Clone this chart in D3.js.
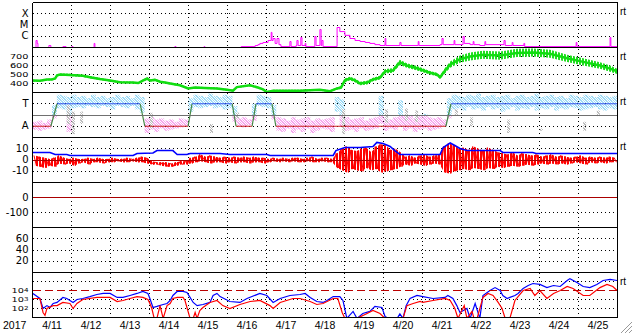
<!DOCTYPE html>
<html><head><meta charset="utf-8">
<script src="https://cdn.jsdelivr.net/npm/d3@7"></script>
<style>
html,body{margin:0;padding:0;background:#fff;}
svg{display:block;}
</style></head><body>
<svg id="chart" width="633" height="334"></svg>
<script>
// ---------------- DATA ----------------
// time unit: day of April 2017 (UT), e.g. 11.5 = 4/11 12:00
const dayLabels = ["4/11","4/12","4/13","4/14","4/15","4/16","4/17","4/18","4/19","4/20","4/21","4/22","4/23","4/24","4/25"];
const yearLabel = "2017";

// X-ray flux (W/m2), [day, flux]
const xrayFlux = [[11.00,8e-8],[11.09,4.2e-7],[11.12,2.3e-7],[11.14,8e-8],[11.42,1.5e-7],[11.47,8e-8],[11.78,1.2e-7],[11.86,8e-8],[12.01,1.2e-7],[12.04,8e-8],[12.58,2.3e-7],[12.60,8e-8],[14.65,1.2e-7],[14.68,8e-8],[15.40,1.2e-7],[15.42,8e-8],[16.35,1.2e-7],[16.71,1.5e-7],[16.78,1.8e-7],[16.83,2.3e-7],[16.91,2.8e-7],[17.04,4.2e-7],[17.12,2.2e-6],[17.14,4.2e-7],[17.17,6.3e-7],[17.22,2.3e-7],[17.27,6.3e-7],[17.32,1.8e-7],[17.37,1.2e-7],[17.60,3.4e-7],[17.63,1.2e-7],[17.76,1.5e-7],[17.78,4.2e-7],[17.81,1.5e-7],[17.88,7.7e-7],[17.91,1.5e-7],[17.99,2.3e-7],[18.01,1.2e-7],[18.24,9.5e-7],[18.27,1.5e-7],[18.37,4e-6],[18.40,1.5e-7],[18.42,4.2e-7],[18.45,1.2e-7],[18.81,6e-6],[18.88,2.6e-6],[19.01,1.2e-6],[19.14,6.3e-7],[19.27,4.2e-7],[19.40,3.4e-7],[19.53,2.8e-7],[19.65,2.3e-7],[19.78,1.8e-7],[19.91,1.5e-7],[20.04,6.3e-7],[20.06,1.5e-7],[20.42,2.8e-7],[20.45,1.5e-7],[20.89,3.4e-7],[20.91,1.5e-7],[21.45,1.8e-7],[21.50,6.3e-7],[21.53,1.8e-7],[21.81,4.2e-7],[21.83,1.8e-7],[22.04,9.5e-7],[22.07,2.3e-7],[22.22,1.8e-7],[22.30,3.4e-7],[22.32,1.8e-7],[22.47,1.5e-7],[22.60,3.4e-7],[22.62,1.8e-7],[23.09,4.2e-7],[23.12,1.5e-7],[23.30,2.8e-7],[23.32,1.5e-7],[23.60,2.3e-7],[23.62,1.2e-7],[24.94,2.8e-7],[24.96,1.2e-7],[25.81,7.7e-7],[25.83,1.2e-7],[26.00,1.2e-7]];

// Solar wind speed (km/s): [day, speed, scatter half-width]
const windSpeed = [[11.01,433,10],[11.19,430,10],[11.37,444,10],[11.50,445,10],[11.58,455,10],[11.63,490,12],[11.71,500,12],[11.96,495,12],[12.29,485,12],[12.47,470,12],[12.73,450,10],[12.99,433,10],[13.24,415,10],[13.58,410,10],[13.71,405,10],[13.83,433,12],[13.94,455,12],[14.01,433,12],[14.14,440,12],[14.27,420,10],[14.40,410,10],[14.53,400,10],[14.78,380,10],[14.99,345,10],[15.17,355,10],[15.42,350,10],[15.73,345,10],[15.99,330,10],[16.14,320,10],[16.24,360,10],[16.58,380,10],[16.78,355,10],[16.91,335,10],[17.01,305,10],[17.17,320,10],[17.86,320,10],[18.37,330,10],[18.63,315,10],[18.81,345,12],[18.91,355,15],[19.01,435,20],[19.14,455,20],[19.27,435,20],[19.40,400,20],[19.58,410,20],[19.73,445,20],[19.91,465,20],[20.04,535,25],[20.24,545,25],[20.42,635,30],[20.60,600,25],[20.86,570,25],[21.19,520,20],[21.37,500,20],[21.45,470,20],[21.58,545,30],[21.71,610,35],[21.96,670,40],[22.22,700,45],[22.55,720,45],[22.99,710,45],[23.42,740,45],[23.83,745,45],[24.27,730,45],[24.71,680,40],[25.12,640,40],[25.55,600,35],[25.81,565,35],[25.99,535,30]];

// IMF sector (T = +1, A = -1), [day, sector]
const imfSector = [[11.00,-1],[11.47,-1],[11.63,1],[13.76,1],[13.88,-1],[14.99,-1],[15.09,1],[16.12,1],[16.22,-1],[16.63,-1],[16.73,1],[17.14,1],[17.24,-1],[21.60,-1],[21.73,1],[26.00,1]];
// IMF direction scatter, 3-hour bins from 4/11 00UT: upper / lower extent (T=+1, A=-1)
const phiHigh = [-0.6,-0.5,-0.7,-0.4,0.9,1.8,1.7,1.6,1.8,1.6, 1.7,1.5,1.8,1.6,1.7,1.5,1.6,1.8,1.6,1.7, 1.5,1.8,1.6,-0.3,-0.2,-0.4,-0.3,-0.5,-0.4,-0.6, -0.3,-0.4,1.5,1.8,1.7,1.6,1.9,1.7,1.6,1.8, 1.7,0.8,-0.3,-0.2,-0.4,1.0,1.8,1.7,1.6,0.9, -0.2,-0.3,-0.5,-0.2,-0.4,-0.3,-0.2,-0.5,-0.3,-0.4, -0.3,-0.2,1.6,1.4,-0.2,-0.4,-0.3,-0.2,-0.5,-0.3, -0.2,1.7,-0.3,-0.4,-0.2,1.3,-0.1,0.0,-0.3,-0.1, 0.1,-0.2,-0.3,-0.2,-0.4,1.5,1.8,1.7,1.6,1.8, 1.7,1.9,1.6,1.7,1.8,1.6,1.7,1.8,1.5,1.7, 1.8,1.6,1.7,1.9,1.6,1.7,1.8,1.6,1.7,1.5, 1.8,1.7,1.6,1.8,1.7,1.6,1.8,1.7,1.6,1.7];
const phiLow = [-1.3,-1.4,-1.3,-1.2,-0.3,0.6,0.5,-1.5,0.6,0.7, 0.6,0.8,0.7,0.6,0.8,0.7,0.5,0.8,0.7,0.6, 0.8,0.5,0.2,-1.6,-1.3,-1.5,-1.2,-1.4,-1.3,-1.2, -1.1,-1.0,0.3,0.7,0.6,0.7,0.8,0.6,0.7,0.5, 0.6,-0.6,-1.0,-1.1,-0.9,-0.5,0.8,0.7,0.6,-0.4, -1.4,-1.5,-1.2,-1.6,-1.3,-1.5,-1.2,-1.6,-1.4,-1.2, -1.3,-1.5,0.3,-1.0,-1.4,-1.3,-1.5,-1.2,-1.4,-1.3, -1.2,-0.8,-1.4,-1.2,-1.3,-1.0,-1.4,-1.2,-1.5,-1.3, -1.2,-1.4,-1.3,-1.2,-1.0,-0.3,0.5,0.6,0.4,0.7, 0.5,0.6,0.4,0.7,0.5,0.6,0.3,0.5,0.7,0.4, 0.6,0.5,0.7,0.4,0.6,0.5,0.7,0.4,0.6,0.5, 0.7,0.6,0.4,0.5,0.6,0.7,0.5,0.4,0.6,0.5];
// undetermined-direction points: [day, high, low]
const phiGray = [[11.88,0.9,-0.8],[12.01,0.3,-1.7],[12.22,0.3,-0.8],[14.01,0.2,-1.2],[15.55,-0.8,-1.6],[16.22,0.2,-0.3],[18.94,0.5,-1.7],[20.04,0.5,-0.7],[20.55,0.6,-0.5],[20.81,0.4,-0.6],[21.83,0.5,0.0],[22.22,-0.2,-1.0],[23.17,-0.4,-1.6],[24.01,-1.2,-1.4],[25.12,-0.6,-1.4],[25.47,0.4,-0.1]];

// IMF Bt (nT), [day, Bt]
const imfBt = [[11.01,6.7],[11.45,6.7],[11.58,4.9],[11.88,4.9],[11.96,4.0],[12.73,4.0],[13.58,4.0],[13.68,5.8],[14.09,6.2],[14.19,8.4],[14.60,8.4],[14.71,4.9],[14.96,4.9],[15.04,5.8],[15.81,5.8],[16.06,4.9],[17.01,4.9],[17.09,4.0],[18.71,4.0],[18.78,8.4],[19.01,11.1],[19.40,11.1],[19.73,12.0],[19.83,15.6],[19.99,14.7],[20.17,12.0],[20.29,8.4],[20.42,4.9],[21.45,4.9],[21.53,11.1],[21.71,15.1],[21.83,12.9],[21.96,10.2],[22.14,8.4],[22.99,8.4],[23.06,6.7],[23.83,6.7],[23.91,5.8],[25.99,5.8]];
// IMF Bz (nT), 3-hour bins from 4/11 00UT: max / min
const bzMax = [4,3,2,1,2,4,2,1,2,1, 1,2,1,2,1,1,2,1,1,2, 1,2,3,2,-1,-2,-2,-2,-3,-2, -1,-1,2,3,5,3,4,3,2,3, 2,3,2,3,2,3,2,2,1,2, 1,2,1,2,2,1,2,3,1,2, 2,1,6,10,12,9,8,10,11,7, 12,14,13,9,10,7,3,4,2,4, 5,3,4,5,12,15,13,10,11,9, 12,10,8,11,9,7,6,5,7,4, 6,5,4,5,3,4,5,3,4,3, 2,3,4,2,3,2,3,2,3,2];
const bzMin = [-5,-6,-7,-5,-6,-3,-4,-3,-5,-3, -2,-4,-2,-2,-3,-2,-2,-1,-2,-2, -1,-2,-2,-3,-4,-4,-5,-6,-6,-5, -4,-4,-3,-2,-1,-2,-3,-2,-2,-3, -2,-3,-2,-2,-3,-2,-2,-3,-2,-1, -2,-1,-2,-1,-2,-2,-1,-2,-2,-1, -2,-2,-7,-9,-11,-8,-9,-10,-7,-9, -8,-11,-10,-9,-8,-6,-4,-5,-3,-4, -5,-4,-3,-4,-11,-12,-10,-9,-8,-9, -7,-8,-9,-7,-8,-6,-7,-6,-5,-6, -5,-4,-5,-4,-3,-4,-3,-4,-3,-4, -3,-2,-3,-4,-2,-3,-2,-3,-2,-2];

// Relativistic electron flux, [day, flux]
const electronA = [[11.01,4.7e3],[11.19,1.3e3],[11.27,1.0e2],[11.37,2.1e2],[11.45,1.3e2],[11.53,3.6e2],[11.63,4.7e2],[11.78,1.7e3],[11.88,1.3e3],[12.04,4.7e2],[12.14,1.0e3],[12.29,1.3e3],[12.47,2.1e3],[12.65,3.6e3],[12.81,4.7e3],[12.99,4.7e3],[13.17,1.7e3],[13.32,1.7e3],[13.50,2.8e3],[13.68,4.7e3],[13.83,7.8e3],[13.96,4.7e3],[14.01,1.3e3],[14.09,1.3e2],[14.19,1.7e2],[14.35,2.8e2],[14.45,3.6e2],[14.53,7.8e2],[14.60,2.8e3],[14.71,7.8e3],[14.86,7.8e3],[14.96,6.0e3],[15.04,1.7e3],[15.12,4.7e2],[15.22,2.1e2],[15.37,2.8e2],[15.55,4.7e2],[15.63,2.8e3],[15.73,4.7e3],[15.81,2.1e3],[16.06,6.0e2],[16.32,4.7e2],[16.50,1.3e3],[16.83,4.7e3],[17.01,2.8e3],[17.17,4.7e2],[17.35,1.3e3],[17.60,2.8e3],[17.86,3.6e3],[17.99,4.7e3],[18.12,1.7e3],[18.29,6.0e2],[18.45,4.7e2],[18.55,7.8e2],[18.71,2.1e3],[18.88,2.1e3],[18.96,7.8e2],[19.06,8],[19.22,47],[19.32,8],[19.47,28],[19.65,47],[19.78,1.7e2],[19.96,1.3e2],[20.04,13],[20.12,8],[20.35,8],[20.42,25],[20.50,8],[20.58,2.1e2],[20.68,1.3e3],[20.86,2.8e3],[21.01,2.1e3],[21.27,1.3e3],[21.58,1.7e3],[21.65,2.8e3],[21.78,1.3e3],[21.88,2.1e2],[21.96,36],[22.14,1.0e2],[22.22,8],[22.35,3.6e2],[22.47,8],[22.55,2.8e3],[22.73,1.0e4],[22.86,2.1e4],[22.99,1.0e4],[23.06,2.8e3],[23.17,1.3e3],[23.24,1.7e3],[23.37,2.8e3],[23.45,4.7e3],[23.58,1.7e4],[23.71,3.6e4],[23.83,6.0e4],[24.01,4.7e4],[24.19,2.1e4],[24.36,3.6e4],[24.53,2.8e4],[24.71,1.3e5],[24.78,2.1e5],[24.96,7.8e4],[25.12,2.8e4],[25.29,2.1e4],[25.47,4.7e4],[25.63,1.3e5],[25.81,1.7e5],[25.99,1.3e5]];
const electronB = [[11.01,1.3e3],[11.19,1.3e3],[11.27,36],[11.32,17],[11.37,1.0e2],[11.53,2.1e2],[11.63,2.1e2],[11.78,4.7e2],[11.96,3.6e2],[12.04,1.0e2],[12.14,3.6e2],[12.29,1.0e3],[12.65,1.7e3],[12.81,1.7e3],[12.99,1.7e3],[13.17,6.0e2],[13.32,7.8e2],[13.50,1.3e3],[13.68,2.1e3],[13.83,1.7e3],[13.96,1.0e3],[14.01,3.6e2],[14.06,1.0e2],[14.12,8],[14.19,8],[14.27,2.1e2],[14.35,8],[14.45,2.1e2],[14.53,3.6e2],[14.60,1.3e3],[14.71,1.7e3],[14.86,1.7e3],[14.91,7.8e2],[14.96,1.3e2],[15.04,8],[15.12,8],[15.17,36],[15.22,8],[15.29,60],[15.37,1.3e2],[15.55,4.7e2],[15.73,7.8e2],[15.88,2.1e2],[16.06,1.0e2],[16.32,2.8e2],[16.58,6.0e2],[16.83,7.8e2],[17.09,2.1e2],[17.17,1.0e2],[17.35,4.7e2],[17.68,1.3e3],[17.86,1.3e3],[18.12,6.0e2],[18.29,2.8e2],[18.45,3.6e2],[18.71,1.3e3],[18.83,1.3e3],[18.94,36],[19.01,8],[19.32,8],[19.58,28],[19.73,60],[19.91,28],[20.04,8],[20.50,8],[20.60,2.1e2],[20.76,3.6e2],[20.94,6.0e2],[21.01,4.7e2],[21.27,7.8e2],[21.58,1.3e3],[21.71,7.8e2],[21.83,1.0e2],[21.91,8],[22.07,2.1e2],[22.14,8],[22.27,47],[22.32,8],[22.40,8],[22.55,1.7e3],[22.68,4.7e3],[22.81,2.8e3],[22.94,4.7e2],[23.04,1.0e2],[23.12,8],[23.24,8],[23.37,7.8e2],[23.58,1.0e4],[23.76,1.7e4],[23.88,2.8e3],[24.01,1.0e4],[24.19,1.3e3],[24.36,4.7e3],[24.53,1.0e4],[24.71,2.8e4],[24.86,1.7e4],[25.12,2.8e3],[25.29,2.8e3],[25.55,2.1e4],[25.73,4.7e4],[25.88,2.8e4],[25.99,1.0e4]];
const electronAlert = 1e4;

// tick labels
const xrayTicks = [[1e-4,"X"],[1e-5,"M"],[1e-6,"C"]];
const speedTicks = [700,600,500,400];
const sectorTicks = [[1,"T"],[-1,"A"]];
const bTicks = [10,0,-10];
const dstTicks = [0,-100];
const kpTicks = [60,40,20];
const eTicks = [1e4,1e3,1e2];

// ---------------- DRAWING ----------------
const FONT = "'Liberation Sans', Arial, Helvetica, sans-serif";
const FONT_Y = "'DejaVu Sans', Verdana, sans-serif";
const svg = d3.select("#chart");
const X0 = 32.5, X1 = 617.5, PT = 2.5, PH = 45, NP = 7, PB = PT + PH*NP;
const ptop = i => PT + PH*i;
const x = d3.scaleLinear().domain([11,26]).range([X0,X1]);

const yX = d3.scaleLog().domain([1e-7,1e-3]).range([ptop(1), ptop(0)]);
const yV = d3.scaleLinear().domain([300,800]).range([ptop(2), ptop(1)]);
const yS = d3.scaleLinear().domain([-2,2]).range([ptop(3), ptop(2)]);
const yB = d3.scaleLinear().domain([-20,20]).range([ptop(4), ptop(3)]);
const yD = d3.scaleLinear().domain([-200,100]).range([ptop(5), ptop(4)]);
const yK = d3.scaleLinear().domain([0,80]).range([ptop(6), ptop(5)]);
const yE = d3.scaleLog().domain([1e1,1e6]).range([ptop(7), ptop(6)]);

const defs = svg.append("defs");
for (let i=0;i<NP;i++){
  defs.append("clipPath").attr("id","cp"+i).append("rect")
    .attr("x",X0).attr("y",ptop(i)).attr("width",X1-X0).attr("height",PH);
}
// speckle patterns for the scatter of IMF direction
function speckle(id, color){
  const p = defs.append("pattern").attr("id",id).attr("patternUnits","userSpaceOnUse")
    .attr("width",5).attr("height",5);
  [[0,0],[1,0],[3,0],[1,1],[2,1],[4,1],[0,2],[2,2],[3,2],[1,3],[3,3],[4,3],[0,4],[2,4],[4,4]].forEach(c=>
    p.append("rect").attr("x",c[0]).attr("y",c[1]).attr("width",1).attr("height",1).attr("fill",color));
}
speckle("spB","#9edbf6");
speckle("spP","#f6a6ee");
speckle("spG","#bcbcbc");
// vertical-stripe patterns for the dense, noisy 1-minute series
function stripes(id, color, period, w){
  const p = defs.append("pattern").attr("id",id).attr("patternUnits","userSpaceOnUse")
    .attr("width",period).attr("height",4);
  p.append("rect").attr("x",0).attr("y",0).attr("width",w).attr("height",4).attr("fill",color);
}
stripes("stR","#ff0000",3,2);
stripes("stG","#22dd22",3,2);
const layer = i => svg.append("g").attr("clip-path",`url(#cp${i})`);

// vertical day grid
const vg = svg.append("g").attr("transform",`translate(0,${PB})`)
  .call(d3.axisBottom(x).tickValues(d3.range(12,26)).tickSize(-(PB-PT)).tickFormat("").offset(0));
vg.select(".domain").remove();
vg.selectAll("line").attr("stroke","#000").attr("stroke-dasharray","1,3").attr("shape-rendering","crispEdges");

function hgrid(y, vals){
  const g = svg.append("g").attr("transform",`translate(${X0},0)`)
    .call(d3.axisLeft(y).tickValues(vals).tickSize(-(X1-X0)).tickFormat("").offset(0));
  g.select(".domain").remove();
  g.selectAll("line").attr("stroke","#000").attr("stroke-dasharray","1,3").attr("shape-rendering","crispEdges");
}
function ylabels(y, vals, fmt, size, stretch){
  const g = svg.append("g").attr("transform",`translate(${X0},0)`)
    .call(d3.axisLeft(y).tickValues(vals).tickFormat(fmt).tickSize(0).tickPadding(4).offset(0));
  g.select(".domain").remove();
  g.attr("font-family",FONT_Y).attr("font-size",size||10);
  g.selectAll("text").attr("fill","#000");
  if (stretch) g.selectAll("text").attr("x",-4/stretch).attr("transform",`scale(${stretch},1)`);
  return g;
}
function hline(y, v, color, w, dash){
  svg.append("line").attr("x1",X0).attr("x2",X1).attr("y1",y(v)).attr("y2",y(v))
    .attr("stroke",color).attr("stroke-width",w||1)
    .attr("stroke-dasharray",dash||null).attr("shape-rendering","crispEdges");
}

hgrid(yX, xrayTicks.map(d=>d[0]));
hgrid(yV, speedTicks);
hgrid(yS, sectorTicks.map(d=>d[0]));
hgrid(yB, [10,-10]);
hgrid(yD, [-100]);
hgrid(yK, kpTicks);
hgrid(yE, [1e5,1e3,1e2]);

// panel 1: X-ray
layer(0).append("path").datum(xrayFlux)
  .attr("d", d3.line().x(d=>x(d[0])).y(d=>yX(d[1])).curve(d3.curveStepAfter))
  .attr("fill","none").attr("stroke","#ff00ff").attr("stroke-width",1);

// panel 2: speed
const g2 = layer(1);
g2.append("path").datum(windSpeed)
  .attr("d", d3.area().x(d=>x(d[0])).y0(d=>yV(d[1]-d[2])).y1(d=>yV(d[1]+d[2])))
  .attr("fill","url(#stG)");
g2.append("path").datum(windSpeed)
  .attr("d", d3.line().x(d=>x(d[0])).y(d=>yV(d[1])))
  .attr("fill","none").attr("stroke","#11dd11").attr("stroke-width",2.5);

// panel 3: IMF sector
const g3 = layer(2);
hline(yS, 0, "#707070", 1);
const binW = 1/8;
phiHigh.forEach((hi,i)=>{
  const lo = phiLow[i], t0 = 11 + i*binW;
  const bx = x(t0), w = x(t0+binW)-x(t0);
  if (hi > 0) g3.append("rect").attr("x",bx).attr("width",w)
      .attr("y",yS(hi)).attr("height",yS(Math.max(lo,0))-yS(hi))
      .attr("fill","url(#spB)");
  if (lo < 0) g3.append("rect").attr("x",bx).attr("width",w)
      .attr("y",yS(Math.min(hi,0))).attr("height",yS(lo)-yS(Math.min(hi,0)))
      .attr("fill","url(#spP)");
});
g3.selectAll(".gray").data(phiGray).enter().append("rect")
  .attr("x",d=>x(d[0])).attr("width",3)
  .attr("y",d=>yS(d[1])).attr("height",d=>yS(d[2])-yS(d[1]))
  .attr("fill","url(#spG)");
for (let i=0;i<imfSector.length-1;i++){
  const a = imfSector[i], b = imfSector[i+1];
  const col = (a[1]===b[1]) ? (a[1]>0 ? "#3355ee" : "#cc2222") : "#448844";
  g3.append("line").attr("x1",x(a[0])).attr("x2",x(b[0]))
    .attr("y1",yS(a[1])).attr("y2",yS(b[1]))
    .attr("stroke",col).attr("stroke-width",1.2);
}

// panel 4: IMF Bz / Bt
const g4 = layer(3);
hline(yB, 0, "#aa0000", 1);
const bzBins = bzMax.map((mx,i)=>[11 + i*binW, mx, bzMin[i]]);
g4.append("path").datum(bzBins)
  .attr("d", d3.area().x(d=>x(d[0]+binW/2)).y0(d=>yB(d[2])).y1(d=>yB(d[1])))
  .attr("fill","url(#stR)");
const bzZig = [];
bzBins.forEach(d=>{ bzZig.push([d[0]+binW*0.3, d[1]]); bzZig.push([d[0]+binW*0.8, d[2]]); });
g4.append("path").datum(bzZig)
  .attr("d", d3.line().x(d=>x(d[0])).y(d=>yB(d[1])))
  .attr("fill","none").attr("stroke","#ff0000").attr("stroke-width",1);
g4.append("path").datum(imfBt)
  .attr("d", d3.line().x(d=>x(d[0])).y(d=>yB(d[1])))
  .attr("fill","none").attr("stroke","#0000ff").attr("stroke-width",1.6);

// panel 5: Dst (zero reference only)
hline(yD, 0, "#aa0000", 1);

// panel 7: electrons
const g7 = layer(6);
hline(yE, electronAlert, "#bb0000", 1.2, "8,4");
g7.append("path").datum(electronA)
  .attr("d", d3.line().x(d=>x(d[0])).y(d=>yE(d[1])))
  .attr("fill","none").attr("stroke","#0000ff").attr("stroke-width",1.2);
g7.append("path").datum(electronB)
  .attr("d", d3.line().x(d=>x(d[0])).y(d=>yE(d[1])))
  .attr("fill","none").attr("stroke","#ff0000").attr("stroke-width",1.2);

// frame
for (let i=0;i<=NP;i++) hline(d3.scaleIdentity(), ptop(i), "#000", 1);
[X0,X1].forEach(xx=>svg.append("line").attr("x1",xx).attr("x2",xx).attr("y1",PT).attr("y2",PB)
  .attr("stroke","#000").attr("shape-rendering","crispEdges"));

// y labels
ylabels(yX, xrayTicks.map(d=>d[0]), v=>xrayTicks.find(d=>d[0]===v)[1]);
ylabels(yV, speedTicks, d=>d, 7.5, 1.3);
ylabels(yS, sectorTicks.map(d=>d[0]), v=>sectorTicks.find(d=>d[0]===v)[1]);
ylabels(yB, bTicks, d=>d);
ylabels(yD, dstTicks, d=>d);
ylabels(yK, kpTicks, d=>d);
const ge = ylabels(yE, eTicks, d=>d, 7.5, 1.3);
ge.selectAll("text").each(function(v){
  const t = d3.select(this).text("10");
  t.append("tspan").attr("dy","-0.25em").attr("font-size",5.5).text(Math.round(Math.log10(v)));
});

// x labels
const xAxisG = svg.append("g").attr("transform",`translate(0,${PB})`)
  .call(d3.axisBottom(x).tickValues(d3.range(11.5,26,1)).tickFormat((d,i)=>dayLabels[i]).tickSize(0).tickPadding(4).offset(0));
xAxisG.select(".domain").remove();
xAxisG.attr("font-family",FONT).attr("font-size",10.5);
xAxisG.selectAll("text").attr("fill","#000");
svg.append("text").attr("x",3).attr("y",PB+11.5).attr("font-family",FONT).attr("font-size",10.5).text(yearLabel);

// "rt" markers
[0,1,2,3,6].forEach(i=>{
  svg.append("text").attr("x",620).attr("y",ptop(i)+12).attr("font-family",FONT).attr("font-size",10).text("rt");
});

// window resize grip
[[621,333,632,322],[625,333,632,326],[629,333,632,330]].forEach(l=>{
  svg.append("line").attr("x1",l[0]).attr("y1",l[1]).attr("x2",l[2]).attr("y2",l[3]).attr("stroke","#999");
  svg.append("line").attr("x1",l[0]+1).attr("y1",l[1]).attr("x2",l[2]).attr("y2",l[3]+1).attr("stroke","#fff");
});
</script>
</body></html>
